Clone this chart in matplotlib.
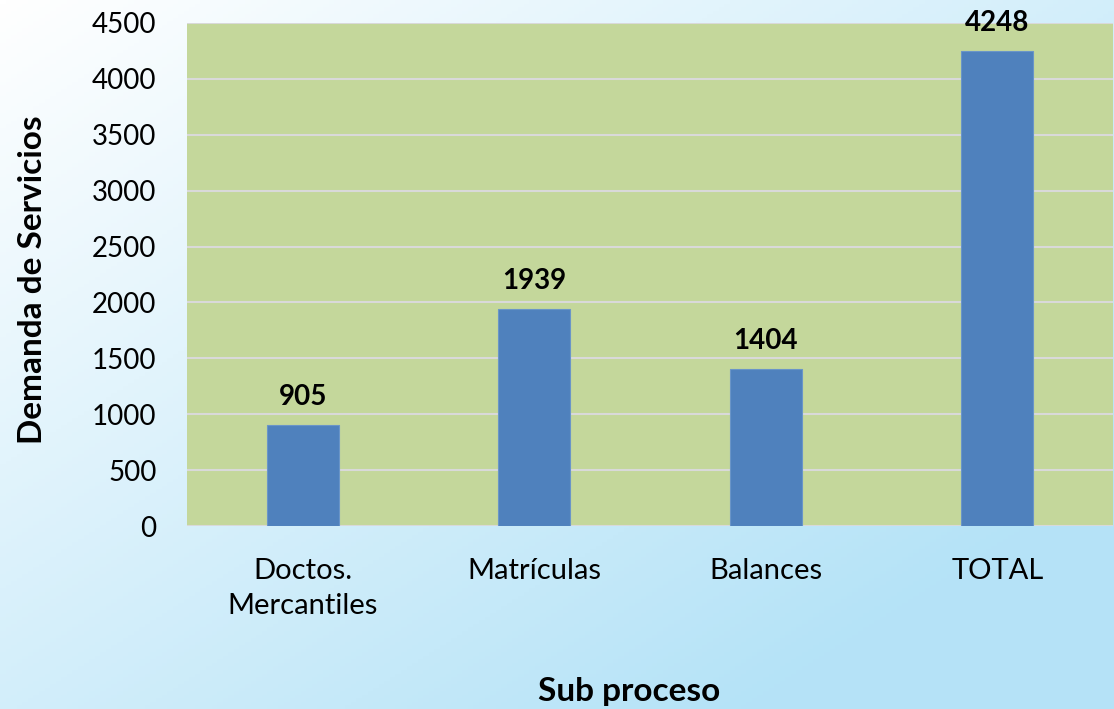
import numpy as np
import matplotlib.pyplot as plt

categorias = ['Doctos.\nMercantiles', 'Matrículas', 'Balances', 'TOTAL']
demanda = [905, 1939, 1404, 4248]
y_ticks = [0, 500, 1000, 1500, 2000, 2500, 3000, 3500, 4000, 4500]

plt.rcParams['font.family'] = ['Lato', 'DejaVu Sans']

fig = plt.figure(figsize=(11.14, 7.09), dpi=100)

# fondo degradado blanco -> celeste
bg = fig.add_axes([0, 0, 1, 1], zorder=-1)
gx, gy = np.meshgrid(np.linspace(0, 1, 200), np.linspace(0, 1, 200))
t = np.clip(0.6 * gx + 0.6 * gy, 0, 1)
c0 = np.array([1.0, 1.0, 1.0])
c1 = np.array([0.71, 0.89, 0.97])
img = c0 + (c1 - c0) * t[..., None]
bg.imshow(img, aspect='auto', extent=[0, 1, 1, 0])
bg.axis('off')

ax = fig.add_axes([0.1679, 0.2581, 0.8312, 0.7095])
ax.set_facecolor('#C4D79B')
x = np.arange(len(categorias))
ax.bar(x, demanda, width=0.31, color='#4F81BD', edgecolor='#6A95C8', linewidth=0.8, zorder=3)

for xi, v in zip(x, demanda):
    ax.annotate(str(v), (xi, v), xytext=(0, 11), textcoords='offset points',
                ha='center', va='bottom', fontsize=20, fontweight='bold')

ax.set_xlim(-0.5, len(categorias) - 0.5)
ax.set_ylim(0, 4500)
ax.set_yticks(y_ticks)
ax.set_xticks(x)
ax.set_xticklabels(categorias, fontsize=21, linespacing=1.45)
ax.tick_params(axis='y', labelsize=20, length=0, pad=22)
ax.tick_params(axis='x', length=0, pad=23)
ax.grid(axis='y', color='#D9D9D9', linewidth=1.5, zorder=1)
for s in ax.spines.values():
    s.set_visible(False)

fig.text(0.029, 0.605, 'Demanda de Servicios', rotation=90, ha='center', va='center',
         fontsize=24, fontweight='bold')
fig.text(0.565, 0.024, 'Sub proceso', ha='center', va='center', fontsize=24, fontweight='bold')

fig.savefig('out.png', dpi=100)
